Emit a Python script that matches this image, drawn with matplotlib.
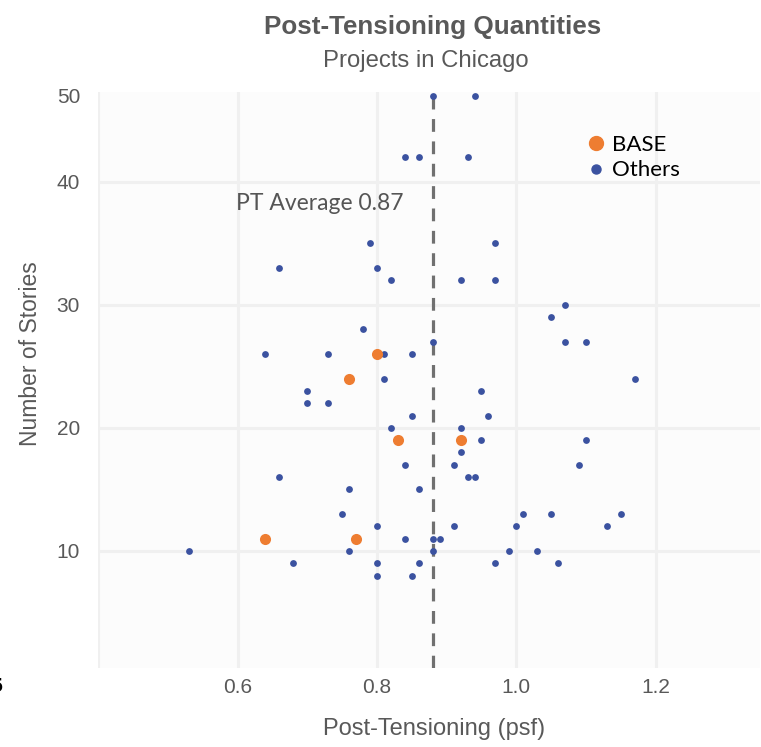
import matplotlib
matplotlib.use("Agg")
import matplotlib.pyplot as plt
from matplotlib.lines import Line2D

# BASE projects (psf, stories)
base_psf = [0.80, 0.76, 0.83, 0.92, 0.64, 0.77]
base_stories = [26, 24, 19, 19, 11, 11]

# other projects
others_psf = [0.88, 0.94, 0.84, 0.86, 0.93, 0.79, 0.97, 0.66, 0.80, 0.92, 0.97,
              0.82, 1.07, 1.05, 0.78, 0.88, 1.07, 1.10, 0.64, 0.73, 0.81, 0.85,
              0.81, 1.17, 0.70, 0.95, 0.70, 0.73, 0.85, 0.96, 0.82, 0.92, 0.95,
              1.10, 0.84, 0.91, 0.92, 1.09, 0.66, 0.93, 0.94, 0.76, 0.86, 0.75,
              1.01, 1.05, 1.15, 0.80, 0.91, 1.00, 1.13, 0.84, 0.88, 0.89, 0.53,
              0.76, 0.88, 0.99, 1.03, 0.68, 0.80, 0.86, 0.97, 1.06, 0.80, 0.85]
others_stories = [47, 47, 42, 42, 42, 35, 35, 33, 33, 32, 32,
                  32, 30, 29, 28, 27, 27, 27, 26, 26, 26, 26,
                  24, 24, 23, 23, 22, 22, 21, 21, 20, 20, 19,
                  19, 17, 17, 18, 17, 16, 16, 16, 15, 15, 13,
                  13, 13, 13, 12, 12, 12, 12, 11, 11, 11, 10,
                  10, 10, 10, 10, 9, 9, 9, 9, 9, 8, 8]

avg_line = 0.88
avg_label = "PT Average 0.87"

x_ticks = [0.6, 0.8, 1.0, 1.2]
x_tick_labels = ["0.6", "0.8", "1.0", "1.2"]
y_ticks = [10, 20, 30, 40, 47]
y_tick_labels = ["10", "20", "30", "40", "50"]

grey = "#595959"
blue = "#3b52a0"
orange = "#ee7d31"
sans = ["Liberation Sans", "DejaVu Sans"]

fig = plt.figure(figsize=(7.61, 7.47), dpi=100)
ax = fig.add_axes([0.129, 0.106, 0.870, 0.771])
ax.set_facecolor("#fcfcfc")

# grid lines
for gx in [0.4, 0.6, 0.8, 1.0, 1.2]:
    ax.axvline(gx, color="#f0f0f0", lw=2.2, zorder=0)
for gy in [10, 20, 30, 40]:
    ax.axhline(gy, color="#f0f0f0", lw=2.2, zorder=0)

ax.scatter(others_psf, others_stories, s=24, color=blue, zorder=3, linewidths=0)
ax.scatter(base_psf, base_stories, s=64, color=orange, zorder=4, linewidths=0)

ax.axvline(avg_line, color="#707070", lw=2.3, ls=(0, (4, 3)), zorder=2)
ax.text(0.838, 38.2, avg_label, ha="right", va="center", fontsize=16.5,
        family="Lato", color="#555555")

ax.set_xlim(0.4, 1.35)
ax.set_ylim(0.5, 47.3)
ax.set_xticks(x_ticks)
ax.set_xticklabels(x_tick_labels, family=sans)
ax.set_yticks(y_ticks)
ax.set_yticklabels(y_tick_labels, family=sans)
ax.tick_params(axis="x", length=0, labelsize=15, labelcolor=grey, pad=7)
ax.tick_params(axis="y", length=0, labelsize=15, labelcolor=grey, pad=13)
for s in ax.spines.values():
    s.set_visible(False)

ax.set_xlabel("Post-Tensioning (psf)", fontsize=17, color=grey, family=sans)
ax.xaxis.set_label_coords(0.507, -0.087)
ax.set_ylabel("Number of Stories", fontsize=16.5, color=grey, family=sans)
ax.yaxis.set_label_coords(-0.085, 0.545)

fig.text(0.569, 0.964, "Post-Tensioning Quantities", ha="center", va="center",
         fontsize=18.7, fontweight="bold", color=grey, family=sans)
fig.text(0.559, 0.919, "Projects in Chicago", ha="center", va="center",
         fontsize=17.2, color=grey, family=sans)

handles = [Line2D([], [], ls="none", marker="o", ms=10, color=orange),
           Line2D([], [], ls="none", marker="o", ms=6.5, color=blue)]
leg = ax.legend(handles, ["BASE", "Others"], loc="center left",
                bbox_to_anchor=(0.7356, 0.886), frameon=False,
                prop={"family": "Lato", "size": 16}, handletextpad=0.2,
                labelspacing=0.26, handlelength=1.0, borderpad=0,
                borderaxespad=0)

fig.text(0.004, 1 - 686 / 747, "5", ha="right", va="center", fontsize=14,
         fontweight="bold", color="black")

fig.savefig("out.png", dpi=100)
